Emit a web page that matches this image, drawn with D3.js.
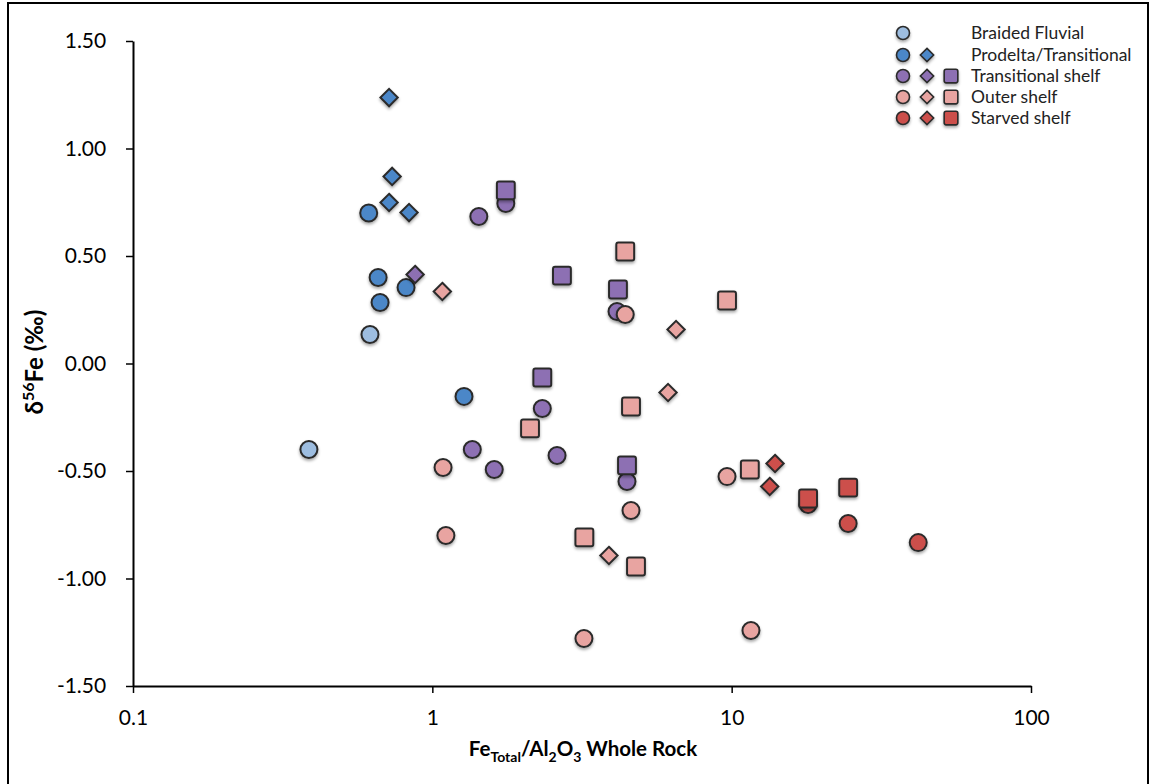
<html>
<head>
<script src="https://d3js.org/d3.v7.min.js"></script>
<style>
  body { margin: 0; background: #fff; }
  text { font-family: Lato, "Open Sans", sans-serif; }
</style>
</head>
<body>
<svg width="1150" height="784"></svg>
<script>
// facies groups and colours
const groups = ["Braided Fluvial", "Prodelta/Transitional", "Transitional shelf", "Outer shelf", "Starved shelf"];
const colors = ["#9dbde0", "#4b87c8", "#8d6fb3", "#e8a4a1", "#cc4f4c"];
const legendShapes = [["circle"], ["circle", "diamond"], ["circle", "diamond", "square"], ["circle", "diamond", "square"], ["circle", "diamond", "square"]];

// [Fe/Al2O3, d56Fe]
const braided = [[0.387, -0.40], [0.619, 0.135]];
const prodeltaCircles = [[0.613, 0.70], [0.659, 0.40], [0.669, 0.284], [0.817, 0.353], [1.276, -0.153]];
const prodeltaDiamonds = [[0.717, 1.237], [0.734, 0.87], [0.717, 0.749], [0.836, 0.702]];
const transCircles = [[1.43, 0.684], [1.76, 0.744], [2.33, -0.209], [1.36, -0.40], [1.61, -0.493], [2.61, -0.428], [4.14, 0.242], [4.47, -0.549]];
const transDiamonds = [[0.876, 0.414]];
const transSquares = [[1.76, 0.805], [2.71, 0.409], [4.17, 0.344], [2.33, -0.065], [4.47, -0.474]];
const outerCircles = [[4.41, 0.228], [1.086, -0.484], [1.11, -0.80], [4.61, -0.684], [3.21, -1.279], [9.65, -0.526], [11.6, -1.242]];
const outerDiamonds = [[1.08, 0.335], [6.52, 0.158], [6.13, -0.135], [3.89, -0.893]];
const outerSquares = [[4.41, 0.521], [9.65, 0.293], [2.12, -0.302], [4.61, -0.20], [11.5, -0.493], [3.22, -0.809], [4.79, -0.944]];
const starvedCircles = [[18.0, -0.656], [24.5, -0.744], [42.0, -0.833]];
const starvedDiamonds = [[13.96, -0.465], [13.4, -0.572]];
const starvedSquares = [[18.0, -0.628], [24.5, -0.577]];

const xTicks = [0.1, 1, 10, 100];
const yTicks = [1.5, 1.0, 0.5, 0.0, -0.5, -1.0, -1.5];

const series = [
  [braided, 0, "circle"],
  [prodeltaCircles, 1, "circle"], [prodeltaDiamonds, 1, "diamond"],
  [transCircles, 2, "circle"], [transDiamonds, 2, "diamond"], [transSquares, 2, "square"],
  [outerCircles, 3, "circle"], [outerDiamonds, 3, "diamond"], [outerSquares, 3, "square"],
  [starvedCircles, 4, "circle"], [starvedDiamonds, 4, "diamond"], [starvedSquares, 4, "square"]
];
const points = [];
series.forEach(([arr, g, shape]) => arr.forEach(d => points.push({x: d[0], y: d[1], g, shape})));

const svg = d3.select("svg");

const defs = svg.append("defs");
const f = defs.append("filter").attr("id", "shadow").attr("x", "-50%").attr("y", "-50%").attr("width", "200%").attr("height", "200%");
f.append("feDropShadow").attr("dx", 0).attr("dy", 2).attr("stdDeviation", 1.5).attr("flood-color", "#000").attr("flood-opacity", 0.35);

// outer frame
svg.append("rect").attr("x", 8).attr("y", 3).attr("width", 1140).attr("height", 790)
  .attr("fill", "none").attr("stroke", "#000").attr("stroke-width", 2);

const x = d3.scaleLog().domain([0.1, 100]).range([133, 1031]);
const y = d3.scaleLinear().domain([-1.5, 1.5]).range([686, 41]);

const xAxis = svg.append("g").attr("transform", "translate(0,686)")
  .call(d3.axisBottom(x).tickValues(xTicks).tickFormat(d => d3.format("~g")(d)).tickSize(7).tickSizeOuter(0));
const yAxis = svg.append("g").attr("transform", "translate(133,0)")
  .call(d3.axisLeft(y).tickValues(yTicks).tickFormat(d => d3.format(".2f")(d).replace("−", "-")).tickSize(7).tickSizeOuter(0));

[xAxis, yAxis].forEach(a => {
  a.select(".domain").attr("stroke", "#000").attr("stroke-width", 2);
  a.selectAll(".tick line").attr("stroke", "#000").attr("stroke-width", 1.5);
  a.selectAll("text").attr("font-family", "Lato, 'Open Sans', sans-serif").attr("font-size", 21).attr("fill", "#000");
});
xAxis.selectAll("text").attr("dy", "1.4em");
yAxis.selectAll("text").attr("dx", "-0.8em");

// axis titles
const xt = svg.append("text").attr("x", 583).attr("y", 756).attr("text-anchor", "middle")
  .attr("font-size", 20.5).attr("font-weight", "bold");
xt.append("tspan").text("Fe");
xt.append("tspan").attr("font-size", 14).attr("dy", 6).text("Total");
xt.append("tspan").attr("dy", -6).text("/Al");
xt.append("tspan").attr("font-size", 14).attr("dy", 6).text("2");
xt.append("tspan").attr("dy", -6).text("O");
xt.append("tspan").attr("font-size", 14).attr("dy", 6).text("3");
xt.append("tspan").attr("dy", -6).text(" Whole Rock");

const yt = svg.append("text").attr("transform", "translate(43,362) rotate(-90)").attr("text-anchor", "middle")
  .attr("font-size", 24).attr("font-weight", "bold");
yt.append("tspan").text("δ");
yt.append("tspan").attr("font-size", 16).attr("dy", -9).text("56");
yt.append("tspan").attr("dy", 9).text("Fe (‰)");

function drawMarker(sel, shape, size) {
  if (shape === "circle") {
    sel.append("circle").attr("r", size);
  } else if (shape === "square") {
    const s = size * 1.05;
    sel.append("rect").attr("x", -s).attr("y", -s).attr("width", 2 * s).attr("height", 2 * s).attr("rx", 2);
  } else {
    const s = size * 1.02;
    sel.append("path").attr("d", `M0,${-s}L${s},0L0,${s}L${-s},0Z`);
  }
}

const marks = svg.append("g");
points.forEach(p => {
  const g = marks.append("g")
    .attr("transform", `translate(${x(p.x)},${y(p.y)})`)
    .attr("fill", colors[p.g]).attr("stroke", "#2b2b2b").attr("stroke-width", 2)
    .attr("filter", "url(#shadow)");
  drawMarker(g, p.shape, 8.5);
});

// legend
const legRowY = [33, 55, 76, 97, 118];
const legColX = {circle: 903, diamond: 927, square: 951};
groups.forEach((name, i) => {
  legendShapes[i].forEach(shape => {
    const g = svg.append("g").attr("transform", `translate(${legColX[shape]},${legRowY[i]})`)
      .attr("fill", colors[i]).attr("stroke", "#2b2b2b").attr("stroke-width", 1.6)
      .attr("filter", "url(#shadow)");
    drawMarker(g, shape, 6.5);
  });
  svg.append("text").attr("x", 971).attr("y", legRowY[i] + 6).attr("font-size", 17.5).attr("fill", "#222").text(name);
});
</script>
</body>
</html>
